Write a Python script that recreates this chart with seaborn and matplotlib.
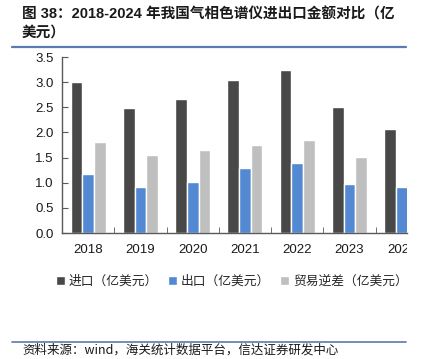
import numpy as np
import pandas as pd
import seaborn as sns
import matplotlib.pyplot as plt
from matplotlib.transforms import Bbox, TransformedBbox

years = ['2018', '2019', '2020', '2021', '2022', '2023', '2024']
imports = [3.00, 2.48, 2.67, 3.04, 3.24, 2.50, 2.06]
exports = [1.17, 0.92, 1.01, 1.29, 1.39, 0.98, 0.91]
deficit = [1.81, 1.55, 1.66, 1.75, 1.85, 1.52, 1.15]
series = ['进口（亿美元）', '出口（亿美元）', '贸易逆差（亿美元）']
colors = ['#484848', '#5289d2', '#bfbfbf']

df = pd.DataFrame({'year': years * 3,
                   'value': imports + exports + deficit,
                   'series': np.repeat(series, len(years))})

sns.set_style('white')
plt.rcParams['font.family'] = ['Liberation Sans', 'Noto Sans CJK SC', 'DejaVu Sans']

W, H = 424, 359
fig = plt.figure(figsize=(W / 100, H / 100), dpi=100)
ax = fig.add_axes([62 / W, (H - 233) / H, 345 / W, 176 / H])

sns.barplot(data=df, x='year', y='value', hue='series', palette=colors,
            width=0.67, saturation=1, ax=ax, legend=True)

ax.set_ylim(0, 3.5)
ax.set_xlim(-0.5, 6.1)
ax.set_yticks(np.arange(0, 3.51, 0.5))
ax.set_yticklabels([f'{v:.1f}' for v in np.arange(0, 3.51, 0.5)])
ax.set_xlabel('')
ax.set_ylabel('')
for s in ['top', 'right']:
    ax.spines[s].set_visible(False)
for s in ['left', 'bottom']:
    ax.spines[s].set_color('#595959')
    ax.spines[s].set_linewidth(1.0)
ax.tick_params(axis='y', direction='in', length=4, color='#595959',
               labelsize=9.5, labelcolor='#1a1a1a', pad=6, left=True)
ax.tick_params(axis='x', which='major', length=0, labelsize=9.5,
               labelcolor='#1a1a1a', pad=8)
ax.set_xticks(np.arange(0.5, 6.5, 1), minor=True)
ax.tick_params(axis='x', which='minor', direction='in', length=4,
               color='#595959', bottom=True)

# clip the last year label like the cropped original
clip = TransformedBbox(Bbox([[0, -0.5], [1, 1]]), ax.transAxes)
for lab in ax.get_xticklabels():
    lab.set_clip_on(True)
    lab.set_clip_box(clip)

handles, labels = ax.get_legend_handles_labels()
ax.get_legend().remove()
fig.legend(handles, labels, loc='center', bbox_to_anchor=(232 / W, 1 - 282 / H),
           ncol=3, frameon=False, fontsize=9.2, handlelength=0.7,
           handleheight=0.7, handletextpad=0.3, columnspacing=0.8)

fig.text(22 / W, 1 - 7 / H, '图 38：2018-2024 年我国气相色谱仪进出口金额对比（亿\n美元）',
         ha='left', va='top', fontsize=10.5, fontweight='bold',
         color='#1a1a1a', linespacing=1.4)
fig.add_artist(plt.Line2D([12 / W, 406 / W], [1 - 47 / H, 1 - 47 / H],
                          color='#5a7bae', lw=1.6))
fig.add_artist(plt.Line2D([12 / W, 406 / W], [1 - 342 / H, 1 - 342 / H],
                          color='#5a7bae', lw=1.2))
fig.text(22 / W, 1 - 350 / H, '资料来源：wind，海关统计数据平台，信达证券研发中心',
         ha='left', va='center', fontsize=9, color='#1a1a1a',
         family=['Noto Sans CJK SC', 'DejaVu Sans'], style='italic')

fig.savefig('out.png', dpi=100)
